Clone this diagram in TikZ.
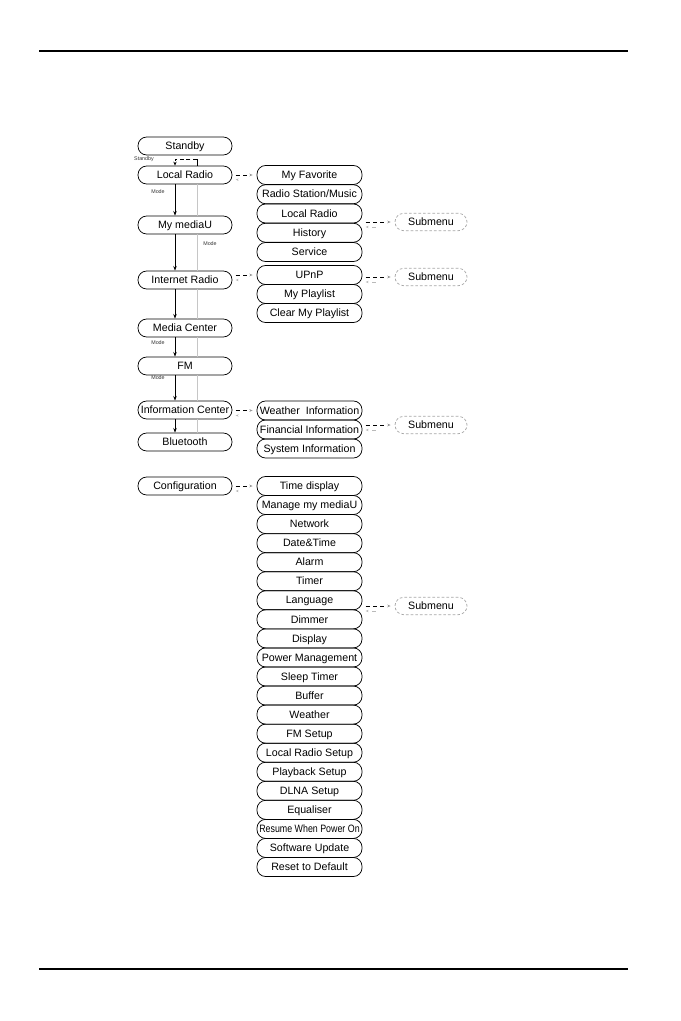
\documentclass[tikz,border=0pt]{standalone}
\usepackage{fontspec}
\setmainfont{Liberation Sans}
\usepackage{graphicx}
\usetikzlibrary{arrows.meta,calc}
\begin{document}
\begin{tikzpicture}[x=0.75pt,y=-0.75pt,
 box/.style={draw, line width=0.55pt, rounded corners=6.5pt, inner sep=0pt, text height=7pt, text depth=1.5pt, font=\fontsize{8}{9}\selectfont},
 lbox/.style={box, minimum width=70.5pt, minimum height=13.5pt},
 rbox/.style={box, minimum width=78.75pt, minimum height=14.3pt},
 subbox/.style={box, draw=gray!70, dash pattern=on 2pt off 1.5pt, minimum width=54pt, minimum height=13pt},
 mainarr/.style={line width=0.6pt, -{Stealth[length=3.5pt,width=2.6pt]}},
 aux/.style={gray!45, line width=0.7pt},
 fwd/.style={line width=0.5pt, dash pattern=on 3pt off 2.5pt, -{Stealth[length=2.5pt,width=2pt,color=gray!80]}, shorten <=2.5pt, shorten >=3pt},
 bwd/.style={gray!55, line width=0.4pt, dash pattern=on 3pt off 4pt, -{Stealth[length=2.2pt,width=1.8pt]}, shorten <=14pt, shorten >=2.5pt},
 tiny/.style={font=\fontsize{4}{5}\selectfont, inner sep=0pt, text=black!80},
]
\useasboundingbox (0,0) rectangle (681,1021);
% page rules
\coordinate (tl) at (39,51); \coordinate (tr) at (628,51);
\coordinate (bl) at (39,969); \coordinate (br) at (628,969);
\draw[line width=0.8pt] (tl) -- (tr);
\draw[line width=0.8pt] (bl) -- (br);

% left column
\node[lbox] (sb) at (185,146) {Standby};
\node[lbox] (lr) at (185,175) {Local Radio};
\node[lbox] (mu) at (185,225) {My mediaU};
\node[lbox] (ir) at (185,280) {Internet Radio};
\node[lbox] (mc) at (185,328) {Media Center};
\node[lbox] (fm) at (185,366) {FM};
\node[lbox] (ic) at (185,410) {Information Center};
\node[lbox] (bt) at (185,442) {Bluetooth};
\node[lbox] (cf) at (185,486) {Configuration};

% right stacks
\foreach \t [count=\i] in {My Favorite, Radio Station/Music, Local Radio, History, Service}
  \node[rbox] (a\i) at (309.5,{175+19.25*(\i-1)}) {\t};
\foreach \t [count=\i] in {UPnP, My Playlist, Clear My Playlist}
  \node[rbox] (b\i) at (309.5,{275+19*(\i-1)}) {\t};
\foreach \t [count=\i] in {Weather\ \ Information, Financial Information, System Information}
  \node[rbox] (w\i) at (309.5,{410.5+19*(\i-1)}) {\t};
\foreach \t [count=\i] in {Time display, Manage my mediaU, Network, Date\&Time, Alarm, Timer, Language, Dimmer, Display, Power Management, Sleep Timer, Buffer, Weather, FM Setup, Local Radio Setup, Playback Setup, DLNA Setup, Equaliser, {\scalebox{0.83}[1]{Resume When Power On}}, Software Update, Reset to Default}
  \node[rbox] (c\i) at (309.5,{486+19.05*(\i-1)}) {\t};

% submenus
\node[subbox] (s1) at (431,222) {Submenu};
\node[subbox] (s2) at (431,277) {Submenu};
\node[subbox] (s3) at (431,425) {Submenu};
\node[subbox] (s4) at (431,606) {Submenu};

% gray parallel line
\foreach \u/\v in {lr/mu, mu/ir, ir/mc, mc/fm, fm/ic, ic/bt}
  \draw[aux] ([xshift=9pt]\u.south) -- ([xshift=9pt]\v.north);

% black mode arrows
\foreach \u/\v in {lr/mu, mu/ir, ir/mc, mc/fm, fm/ic, ic/bt}
  \draw[mainarr] ([xshift=-7.5pt]\u.south) -- ([xshift=-7.5pt]\v.north);

% standby bracket
\draw[line width=0.6pt] ([xshift=9pt]lr.north) -- ([xshift=9pt,yshift=5pt]lr.north);
\draw[line width=0.6pt, dash pattern=on 3pt off 2pt, -{Stealth[length=3pt,width=2.5pt]}]
  ([xshift=9pt,yshift=5pt]lr.north) -| ([xshift=-7.5pt]lr.north);

% small labels
\node[tiny] (lsb) at (144,159) {Standby};
\node[tiny] (m1) at (158,192) {Mode};
\node[tiny] (m2) at (210,244) {Mode};
\node[tiny] (m3) at (158,343) {Mode};
\node[tiny] (m4) at (158,378) {Mode};

% left -> right connectors
\draw[fwd] (lr.east) -- (a1.west);
\draw[bwd] ([yshift=-3.5pt]a1.west) -- ([yshift=-3.5pt]lr.east);
\draw[fwd] (b1.west -| ir.east) -- (b1.west);
\draw[bwd] ($(b1.west)+(0,5)$) -- ($(b1.west -| ir.east)+(0,5)$);
\draw[fwd] (w1.west -| ic.east) -- (w1.west);
\draw[bwd] ($(w1.west)+(0,5)$) -- ($(w1.west -| ic.east)+(0,5)$);
\draw[fwd] (c1.west -| cf.east) -- (c1.west);
\draw[bwd] ($(c1.west)+(0,5)$) -- ($(c1.west -| cf.east)+(0,5)$);

% right -> submenu connectors
\draw[fwd] (s1.west -| a4.east) -- (s1.west);
\draw[bwd] ($(s1.west)+(0,5)$) -- ($(s1.west -| a4.east)+(0,5)$);
\draw[fwd] (s2.west -| b1.east) -- (s2.west);
\draw[bwd] ($(s2.west)+(0,5)$) -- ($(s2.west -| b1.east)+(0,5)$);
\draw[fwd] (s3.west -| w2.east) -- (s3.west);
\draw[bwd] ($(s3.west)+(0,5)$) -- ($(s3.west -| w2.east)+(0,5)$);
\draw[fwd] (s4.west -| c8.east) -- (s4.west);
\draw[bwd] ($(s4.west)+(0,5)$) -- ($(s4.west -| c8.east)+(0,5)$);
\end{tikzpicture}
\end{document}
